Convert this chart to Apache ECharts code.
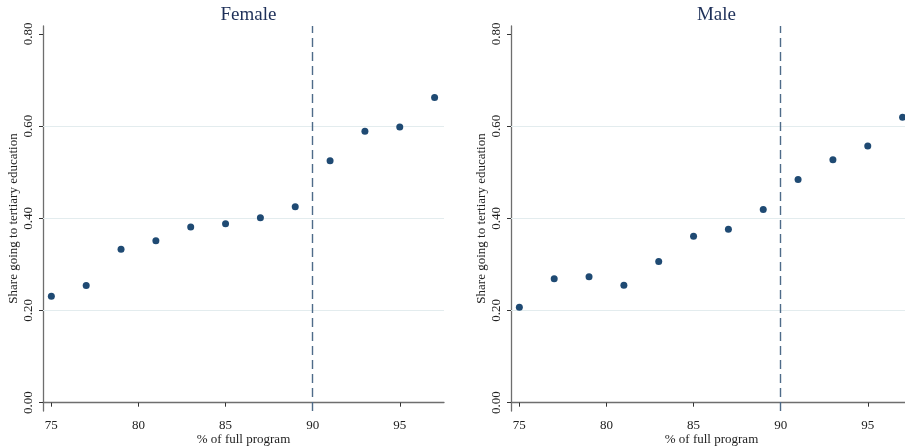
<!DOCTYPE html>
<html>
<head>
<meta charset="utf-8">
<script src="https://cdn.jsdelivr.net/npm/echarts@6/dist/echarts.min.js"></script>
<style>
  html, body { margin: 0; padding: 0; background: #ffffff; }
  #chart { width: 905px; height: 448px; }
</style>
</head>
<body>
<div id="chart"></div>
<script>
// Share of students going on to tertiary education, by % of full program completed
const programPct = [75, 77, 79, 81, 83, 85, 87, 89, 91, 93, 95, 97];
const femaleShare = [0.231, 0.254, 0.333, 0.351, 0.381, 0.388, 0.401, 0.425, 0.525, 0.589, 0.598, 0.662];
const maleShare = [0.207, 0.269, 0.273, 0.255, 0.306, 0.361, 0.376, 0.419, 0.484, 0.527, 0.557, 0.619];
const yTicks = [0, 0.2, 0.4, 0.6, 0.8];
const xTicks = [75, 80, 85, 90, 95];
const gridValues = [0.2, 0.4, 0.6];
const cutoff = 90;
const panelTitles = ['Female', 'Male'];

const FONT = 'Liberation Serif';
const DOT = '#1f4a73';
const AXIS = '#6e6e6e';

const grids = [
  { left: 43, top: 26, width: 401, height: 385, outerBoundsMode: 'none', containLabel: false },
  { left: 511, top: 26, width: 401, height: 385, outerBoundsMode: 'none', containLabel: false }
];

function xAxisFor(i) {
  return {
    type: 'value', gridIndex: i, min: 74.52, max: 97.54,
    name: '% of full program', nameLocation: 'middle', nameGap: 22, nameMoveOverlap: false,
    nameTextStyle: { fontFamily: FONT, fontSize: 13, color: '#222' },
    axisLine: { show: true, lineStyle: { color: AXIS, width: 1.3 } },
    axisTick: { show: true, length: 4, customValues: xTicks, lineStyle: { color: '#333' } },
    axisLabel: { customValues: xTicks, margin: 8, fontFamily: FONT, fontSize: 13, color: '#222' },
    splitLine: { show: false }
  };
}

function yAxisFor(i) {
  return {
    type: 'value', gridIndex: i, min: -0.018, max: 0.817,
    name: 'Share going to tertiary education', nameLocation: 'middle', nameGap: 23,
    nameTextStyle: { fontFamily: FONT, fontSize: 13, color: '#222' },
    axisLine: { show: true, lineStyle: { color: AXIS, width: 1.3 } },
    axisTick: { show: true, length: 4, customValues: yTicks, lineStyle: { color: '#333' } },
    axisLabel: {
      customValues: yTicks, rotate: 90, margin: 8,
      fontFamily: FONT, fontSize: 13, color: '#222',
      formatter: v => v.toFixed(2)
    },
    splitLine: { show: false }
  };
}

function panelSeries(i, values) {
  return [
    {
      // light horizontal reference lines behind the dots
      type: 'scatter', xAxisIndex: i, yAxisIndex: i, data: [], z: 1, silent: true,
      markLine: {
        silent: true, symbol: 'none', label: { show: false },
        lineStyle: { color: '#e3ecee', type: 'solid', width: 1 },
        data: gridValues.map(v => ({ yAxis: v }))
      }
    },
    {
      type: 'scatter', xAxisIndex: i, yAxisIndex: i, z: 5,
      symbolSize: 7, itemStyle: { color: DOT, opacity: 1 },
      data: programPct.map((p, k) => [p, values[k]]),
      markLine: {
        silent: true, symbol: 'none', label: { show: false },
        lineStyle: { color: '#4e6b89', type: [9, 5], width: 1.4 },
        data: [{ xAxis: cutoff }]
      }
    }
  ];
}

const chart = echarts.init(document.getElementById('chart'), null, { renderer: 'canvas' });
chart.setOption({
  animation: false,
  backgroundColor: '#ffffff',
  title: panelTitles.map((t, i) => ({
    text: t, left: grids[i].left + grids[i].width / 2, top: 1, textAlign: 'center',
    textStyle: { fontFamily: FONT, fontSize: 19, fontWeight: 'normal', color: '#1e3059' }
  })),
  grid: grids,
  xAxis: [xAxisFor(0), xAxisFor(1)],
  yAxis: [yAxisFor(0), yAxisFor(1)],
  series: [...panelSeries(0, femaleShare), ...panelSeries(1, maleShare)]
});
</script>
</body>
</html>
